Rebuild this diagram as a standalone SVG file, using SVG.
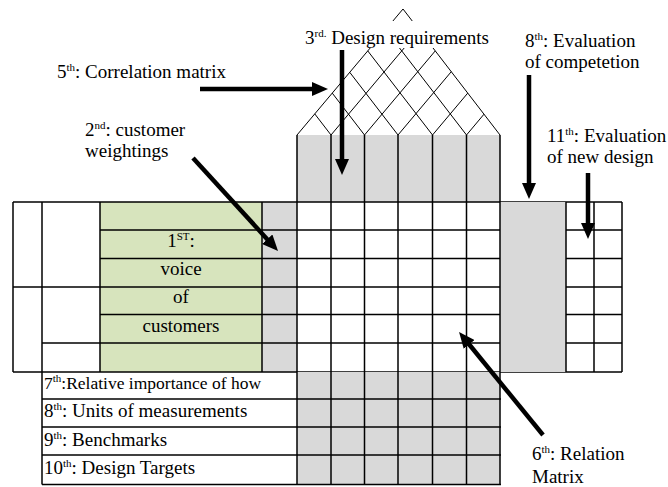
<svg xmlns="http://www.w3.org/2000/svg" width="668" height="487" viewBox="0 0 668 487" font-family="Liberation Serif, Times New Roman, serif">
<style>
.grid{stroke:#000;stroke-width:1.5;fill:none}
.thin{stroke:#000;stroke-width:1;fill:none}
.green{fill:#d7e4bd}
.gray{fill:#d9d9d9}
.lbl{font-size:19px;fill:#000}
.sup{font-size:11px}
.mid{text-anchor:middle}
.arrow{stroke:#000;stroke-width:4.5;fill:none;marker-end:url(#ah)}
</style>
<defs>
<marker id="ah" markerUnits="userSpaceOnUse" viewBox="0 0 16 14" markerWidth="16" markerHeight="14" refX="5" refY="7" orient="auto">
<path d="M0,0 L16,7 L0,14 z" fill="#000"/>
</marker>
</defs>
<rect width="668" height="487" fill="#fff"/>

<g id="roof">
<rect class="gray" x="297" y="135" width="203" height="67"/>
<g class="thin">
<line x1="297" y1="135" x2="403" y2="9"/>
<line x1="500" y1="135" x2="403" y2="9"/>
<line x1="331" y1="135" x2="419.25" y2="30.1"/>
<line x1="364.5" y1="135" x2="435.25" y2="50.9"/>
<line x1="398" y1="135" x2="451.26" y2="71.7"/>
<line x1="432.5" y1="135" x2="467.75" y2="93.1"/>
<line x1="466.5" y1="135" x2="484" y2="114.2"/>
<line x1="331" y1="135" x2="314.76" y2="113.9"/>
<line x1="364.5" y1="135" x2="332.25" y2="93.1"/>
<line x1="398" y1="135" x2="349.74" y2="72.3"/>
<line x1="432.5" y1="135" x2="367.75" y2="50.9"/>
<line x1="466.5" y1="135" x2="385.5" y2="29.8"/>
</g>
</g>

<g id="left-grid">
<rect class="green" x="100" y="202" width="162" height="170"/>
<rect class="gray" x="262" y="202" width="35" height="170"/>
<g class="grid">
<line x1="13" y1="202" x2="622" y2="202"/>
<line x1="13" y1="287" x2="622" y2="287"/>
<line x1="13" y1="372" x2="622" y2="372"/>
<line x1="42" y1="343" x2="622" y2="343"/>
<line x1="100" y1="230" x2="622" y2="230"/>
<line x1="100" y1="258.5" x2="622" y2="258.5"/>
<line x1="100" y1="314.5" x2="622" y2="314.5"/>
<line x1="13" y1="202" x2="13" y2="372"/>
<line x1="42" y1="202" x2="42" y2="484.5"/>
<line x1="100" y1="202" x2="100" y2="372"/>
<line x1="262" y1="202" x2="262" y2="372"/>
</g>
</g>

<g id="competition">
<rect class="gray" x="500" y="202" width="66" height="170"/>
<g class="grid">
<line x1="566" y1="202" x2="566" y2="372"/>
<line x1="594" y1="202" x2="594" y2="372"/>
<line x1="622" y1="202" x2="622" y2="372"/>
</g>
</g>

<g id="bottom-matrix">
<rect class="gray" x="297" y="372" width="203" height="112.5"/>
<g class="grid">
<line x1="42" y1="399" x2="501" y2="399"/>
<line x1="42" y1="427" x2="501" y2="427"/>
<line x1="42" y1="455" x2="501" y2="455"/>
<line x1="42" y1="484.5" x2="501" y2="484.5"/>
</g>
</g>

<g id="main-matrix" class="grid">
<line x1="297" y1="135" x2="297" y2="484.5"/>
<line x1="331" y1="135" x2="331" y2="484.5"/>
<line x1="364.5" y1="135" x2="364.5" y2="484.5"/>
<line x1="398" y1="135" x2="398" y2="484.5"/>
<line x1="432.5" y1="135" x2="432.5" y2="484.5"/>
<line x1="466.5" y1="135" x2="466.5" y2="484.5"/>
<line x1="500" y1="135" x2="500" y2="484.5"/>
</g>

<g id="voice-of-customers" class="lbl mid" font-family="Liberation Serif, serif">
<text x="181" y="247">1<tspan class="sup" dy="-7">ST</tspan><tspan dy="7">:</tspan></text>
<text x="181" y="275">voice</text>
<text x="181" y="303">of</text>
<text x="181" y="332">customers</text>
</g>

<g id="bottom-table" class="lbl" font-family="Liberation Serif, serif">
<text x="44" y="389" style="font-size:17.5px">7<tspan class="sup" dy="-7">th</tspan><tspan dy="7">:Relative importance of how</tspan></text>
<text x="44" y="417">8<tspan class="sup" dy="-7">th</tspan><tspan dy="7">: Units of measurements</tspan></text>
<text x="44" y="446">9<tspan class="sup" dy="-7">th</tspan><tspan dy="7">: Benchmarks</tspan></text>
<text x="44" y="474">10<tspan class="sup" dy="-7">th</tspan><tspan dy="7">: Design Targets</tspan></text>
</g>

<g id="label-design-requirements" font-family="Liberation Serif, serif">
<rect x="301" y="21" width="196" height="27" fill="#fff"/>
<text class="lbl" x="305" y="44">3<tspan class="sup" dy="-7">rd.</tspan><tspan dy="7"> Design requirements</tspan></text>
</g>
<g id="label-correlation" class="lbl" font-family="Liberation Serif, serif">
<text x="57" y="78">5<tspan class="sup" dy="-7">th</tspan><tspan dy="7">: Correlation matrix</tspan></text>
</g>
<g id="label-weightings" class="lbl" font-family="Liberation Serif, serif">
<text x="85" y="136">2<tspan class="sup" dy="-7">nd</tspan><tspan dy="7">: customer</tspan></text>
<text x="85" y="157">weightings</text>
</g>
<g id="label-competition" class="lbl" font-family="Liberation Serif, serif">
<text x="525" y="47">8<tspan class="sup" dy="-7">th</tspan><tspan dy="7">: Evaluation</tspan></text>
<text x="525" y="68">of competetion</text>
</g>
<g id="label-new-design" class="lbl" font-family="Liberation Serif, serif">
<text x="547" y="142">11<tspan class="sup" dy="-7">th</tspan><tspan dy="7">: Evaluation</tspan></text>
<text x="547" y="163">of new design</text>
</g>
<g id="label-relation" class="lbl" font-family="Liberation Serif, serif">
<text x="532" y="460">6<tspan class="sup" dy="-7">th</tspan><tspan dy="7">: Relation</tspan></text>
<text x="532" y="483">Matrix</text>
</g>

<g id="connectors">
<line class="arrow" x1="200" y1="89" x2="317" y2="89"/>
<line class="arrow" x1="342" y1="50" x2="342" y2="164"/>
<line class="arrow" x1="193" y1="158" x2="270.6" y2="242.9"/>
<line class="arrow" x1="529" y1="75" x2="529" y2="188"/>
<line class="arrow" x1="588" y1="173" x2="588" y2="228"/>
<line class="arrow" x1="543" y1="435" x2="466" y2="340.5"/>
</g>
</svg>
